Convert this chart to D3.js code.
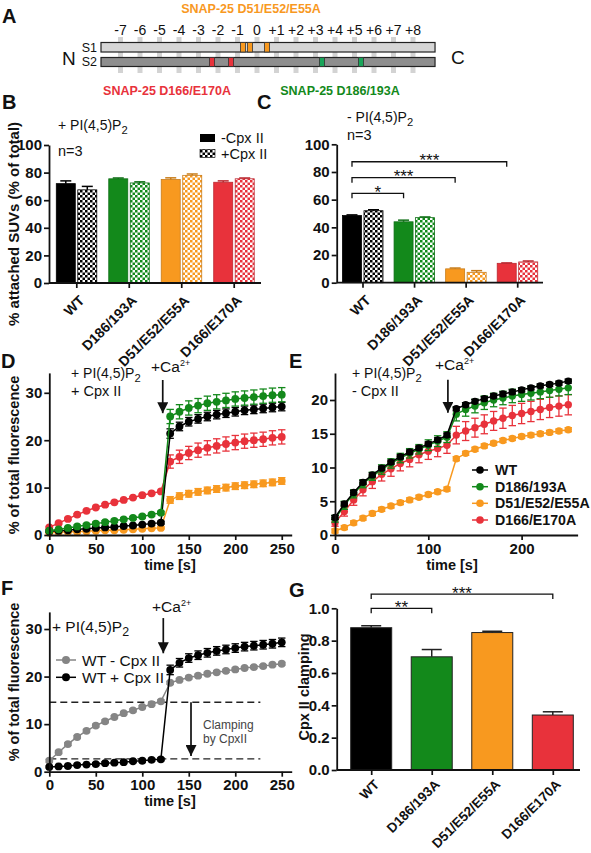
<!DOCTYPE html>
<html><head><meta charset="utf-8">
<script src="https://cdn.jsdelivr.net/npm/d3@7"></script>
<style>body{margin:0;background:#fff}svg{display:block}text{font-family:Arial,"Liberation Sans",sans-serif}</style>
</head><body><svg id="c" width="591" height="853"></svg>
<script>
// ---------------- data ----------------
const categories = ["WT","D186/193A","D51/E52/E55A","D166/E170A"];
const seriesColors = ["#000000","#13891b","#f8991f","#e8323b"];

// panel A
const layerLabels = ["-7","-6","-5","-4","-3","-2","-1","0","+1","+2","+3","+4","+5","+6","+7","+8"];
const layerValues = [-7,-6,-5,-4,-3,-2,-1,0,1,2,3,4,5,6,7,8];
const orangeMutS1 = [-0.72,-0.36,0.51];
const redMutS2 = [-2.31,-1.33];
const greenMutS2 = [3.33,5.33];

// panel B (+PI(4,5)P2)
const attachedPIP2NoCpx = [72,75.5,75,73];
const attachedPIP2NoCpxErr = [2,0.6,1.2,1];
const attachedPIP2Cpx = [67.5,72.5,78,75.5];
const attachedPIP2CpxErr = [2.5,0.8,1,0.6];
const yTicksPct = [0,20,40,60,80,100];

// panel C (-PI(4,5)P2)
const attachedNoPIP2NoCpx = [48.5,44,10,14];
const attachedNoPIP2NoCpxErr = [0.5,1.2,0.6,0.3];
const attachedNoPIP2Cpx = [52,47,7.5,15];
const attachedNoPIP2CpxErr = [0.7,0.5,1.2,0.7];
const sigC = [{a:0,b:1,label:"*",y:64.6},{a:0,b:2,label:"***",y:75.9},{a:0,b:3,label:"***",y:87.4}];

// time course
const time = [0,10,20,30,40,50,60,70,80,90,100,110,120,130,140,150,160,170,180,190,200,210,220,230,240,250];

// panel D (+PI(4,5)P2 + Cpx II)
const dWT    = [0.8,0.9,1.0,1.2,1.3,1.5,1.6,1.7,1.9,2.0,2.2,2.4,2.6,21.4,22.9,23.9,24.5,25.0,25.4,25.7,26.0,26.3,26.5,26.7,26.9,27.1];
const dWTErr = [0.2,0.2,0.2,0.2,0.2,0.2,0.2,0.2,0.2,0.2,0.2,0.3,0.3,1.0,0.9,0.9,0.9,0.9,0.9,0.9,0.9,0.9,0.9,0.9,0.9,0.9];
const dD186    = [0.9,1.2,1.5,1.8,2.1,2.4,2.7,3.0,3.3,3.6,3.9,4.3,4.7,25.0,26.0,26.8,27.3,27.8,28.1,28.4,28.7,28.9,29.1,29.3,29.5,29.6];
const dD186Err = [0.2,0.2,0.2,0.3,0.3,0.3,0.3,0.3,0.3,0.3,0.3,0.3,0.3,1.5,1.5,1.5,1.5,1.5,1.5,1.5,1.5,1.5,1.5,1.5,1.5,1.5];
const dD51    = [0.5,0.6,0.7,0.7,0.8,0.9,1.0,1.0,1.1,1.2,1.3,1.4,1.5,7.4,8.2,8.7,9.1,9.4,9.7,10.0,10.3,10.5,10.7,10.9,11.1,11.4];
const dD51Err = [0.2,0.2,0.2,0.2,0.2,0.2,0.2,0.2,0.2,0.2,0.2,0.2,0.2,0.7,0.7,0.7,0.7,0.7,0.7,0.7,0.7,0.7,0.7,0.7,0.7,0.7];
const dD166    = [1.6,2.5,3.4,4.3,5.1,5.8,6.4,6.9,7.4,7.9,8.4,8.8,9.2,15.5,16.5,17.3,17.9,18.4,18.8,19.2,19.5,19.8,20.0,20.2,20.5,20.7];
const dD166Err = [0.2,0.2,0.2,0.2,0.2,0.2,0.2,0.2,0.2,0.2,0.2,0.2,0.2,1.4,1.4,1.4,1.5,1.5,1.5,1.5,1.5,1.5,1.5,1.5,1.5,1.5];

// panel E (+PI(4,5)P2 - Cpx II)
const eWT    = [2.6,4.6,6.3,7.8,8.9,9.9,10.8,11.6,12.3,12.9,13.5,14.1,14.8,18.7,19.3,19.8,20.2,20.6,20.9,21.2,21.5,21.8,22.1,22.3,22.5,22.8];
const eWTErr = [0.3,0.3,0.3,0.3,0.3,0.3,0.3,0.3,0.3,0.3,0.3,0.3,0.3,0.3,0.3,0.3,0.3,0.3,0.3,0.3,0.3,0.3,0.3,0.3,0.3,0.3];
const eD186    = [2.4,4.4,6.1,7.6,8.7,9.7,10.6,11.4,12.1,12.7,13.3,13.9,14.5,17.9,18.6,19.1,19.6,20.0,20.3,20.6,20.8,21.0,21.2,21.4,21.6,21.8];
const eD186Err = [0.5,0.6,0.6,0.6,0.6,0.7,0.7,0.7,0.7,0.7,0.8,0.8,0.8,1.0,1.0,1.0,1.0,1.0,1.0,1.0,1.0,1.0,1.0,1.0,1.0,1.0];
const eD51    = [0.6,1.1,1.8,2.5,3.2,3.8,4.3,4.8,5.2,5.6,6.0,6.4,6.8,11.3,12.1,12.7,13.2,13.6,14.0,14.3,14.6,14.8,15.0,15.2,15.4,15.6];
const eD51Err = [0.3,0.3,0.3,0.3,0.3,0.3,0.3,0.3,0.3,0.3,0.3,0.3,0.3,0.3,0.3,0.3,0.3,0.3,0.3,0.3,0.3,0.3,0.3,0.3,0.3,0.3];
const eD166    = [1.8,3.5,5.2,6.7,7.9,9.0,9.8,10.6,11.2,11.9,12.4,12.8,13.3,14.8,15.4,15.9,16.4,16.9,17.3,17.7,18.0,18.3,18.6,18.9,19.1,19.3];
const eD166Err = [0.5,0.7,0.8,0.9,1.0,1.0,1.1,1.1,1.1,1.2,1.2,1.2,1.2,1.3,1.4,1.4,1.4,1.4,1.5,1.5,1.5,1.5,1.5,1.5,1.5,1.5];

// panel F
const fWTNoCpx    = [2.3,4.1,5.8,7.3,8.6,9.7,10.6,11.5,12.3,12.9,13.6,14.2,14.8,18.7,19.3,19.8,20.2,20.6,20.9,21.2,21.5,21.8,22.0,22.2,22.5,22.7];
const fWTNoCpxErr = [0.3,0.3,0.3,0.3,0.3,0.3,0.3,0.3,0.3,0.3,0.3,0.3,0.3,0.3,0.3,0.3,0.3,0.3,0.3,0.3,0.3,0.3,0.3,0.3,0.3,0.3];
const fWTCpx    = [1.0,1.1,1.2,1.4,1.5,1.6,1.8,1.9,2.0,2.2,2.3,2.5,2.6,21.4,22.9,23.9,24.5,25.0,25.4,25.7,26.0,26.3,26.5,26.7,26.9,27.2];
const fWTCpxErr = [0.2,0.2,0.2,0.2,0.2,0.3,0.3,0.3,0.3,0.3,0.3,0.3,0.3,1.0,0.9,0.9,0.9,0.9,0.9,0.9,0.9,0.9,0.9,0.9,0.9,0.9];
const clampLevels = [14.6,2.7];

// panel G
const cpxClamping = [0.88,0.70,0.85,0.34];
const cpxClampingErr = [0.012,0.045,0.008,0.02];
const sigG = [{a:0,b:1,label:"**",y:1.0},{a:0,b:3,label:"***",y:1.088}];

// ---------------- drawing ----------------
const svg = d3.select("#c");
svg.append("rect").attr("width",591).attr("height",853).attr("fill","#fff");
const INK = "#111";
const TICK = 15, TITLE = 14.5;
const defs = svg.append("defs");
seriesColors.forEach((c,i)=>{
  const p = defs.append("pattern").attr("id","chk"+i).attr("patternUnits","userSpaceOnUse").attr("width",5).attr("height",5);
  p.append("rect").attr("width",5).attr("height",5).attr("fill","#fff");
  p.append("rect").attr("width",2.5).attr("height",2.5).attr("fill",c);
  p.append("rect").attr("x",2.5).attr("y",2.5).attr("width",2.5).attr("height",2.5).attr("fill",c);
});
const mk = defs.append("marker").attr("id","ah").attr("viewBox","0 0 10 10").attr("refX",10).attr("refY",5)
  .attr("markerWidth",11).attr("markerHeight",11).attr("markerUnits","userSpaceOnUse").attr("orient","auto");
mk.append("path").attr("d","M0,0L10,5L0,10Z").attr("fill",INK);

function txt(x,y,t,o={}){
  return svg.append("text").attr("x",x).attr("y",y).text(t)
    .attr("font-size",o.size||14).attr("font-weight",o.bold?"bold":"normal")
    .attr("fill",o.fill||INK).attr("text-anchor",o.anchor||"start");
}
function panelLabel(x,y,t){ txt(x,y,t,{size:20,bold:true}); }
function pip2(x,y,prefix,size){
  const s = size||14;
  const e = txt(x,y,prefix+" PI(4,5)P",{size:s});
  e.append("tspan").attr("dy",4).attr("font-size",s*0.8).text("2");
}
function ca(x,y){
  const e = txt(x,y,"+Ca",{size:15.5});
  e.append("tspan").attr("dy",-6).attr("font-size",9).text("2+");
}
function styleAxis(a, size){
  a.select(".domain").attr("stroke",INK).attr("stroke-width",1.8);
  a.selectAll(".tick line").attr("stroke",INK).attr("stroke-width",1.7);
  a.selectAll(".tick text").attr("font-size",size||TICK).attr("font-weight","bold").attr("fill",INK)
    .attr("font-family",'Arial,"Liberation Sans",sans-serif');
}
function yAxis(y,x0,ticks,fmt){
  const a = svg.append("g").attr("transform",`translate(${x0},0)`)
    .call(d3.axisLeft(y).tickValues(ticks).tickSize(5).tickSizeOuter(0).tickPadding(2).tickFormat(fmt||d3.format("d")));
  styleAxis(a);
}
function catAxis(x,y0,x0,x1,size,dy){
  svg.append("line").attr("x1",x0).attr("x2",x1).attr("y1",y0).attr("y2",y0).attr("stroke",INK).attr("stroke-width",1.8);
  const a = svg.append("g").attr("transform",`translate(0,${y0})`)
    .call(d3.axisBottom(x).tickSize(5).tickSizeOuter(0));
  a.select(".domain").remove();
  styleAxis(a,size);
  a.selectAll(".tick text").attr("x",0).attr("y",0).attr("dy","0.35em").attr("text-anchor","end")
    .attr("transform",`translate(5,${dy}) rotate(-45)`);
}
function yTitle(x,y,t,size){
  svg.append("text").attr("transform",`translate(${x},${y}) rotate(-90)`).attr("text-anchor","middle")
    .attr("font-size",size||TITLE).attr("font-weight","bold").attr("fill",INK).text(t);
}
function xTitle(x,y,t){
  svg.append("text").attr("x",x).attr("y",y).attr("text-anchor","middle").attr("font-size",TITLE).attr("font-weight","bold").attr("fill",INK).text(t);
}
function errUp(g,cx,yv,ye,hw,color){
  g.append("line").attr("x1",cx).attr("x2",cx).attr("y1",yv).attr("y2",ye).attr("stroke",color).attr("stroke-width",1.5);
  g.append("line").attr("x1",cx-hw).attr("x2",cx+hw).attr("y1",ye).attr("y2",ye).attr("stroke",color).attr("stroke-width",1.5);
}
function brackets(list,x,y,off,drop){
  list.forEach(s=>{
    const xa = x(categories[s.a])+off, xb = x(categories[s.b])+off, yy = y(s.y);
    svg.append("path").attr("d",`M${xa},${yy+drop}V${yy}H${xb}V${yy+drop}`).attr("fill","none").attr("stroke",INK).attr("stroke-width",1.3);
    txt((xa+xb)/2,yy+4.5,s.label,{size:17,anchor:"middle"});
  });
}

// ===== Panel A =====
panelLabel(2,23,"A");
const xA = d3.scaleLinear().domain([-7,8]).range([120.5,413]);
txt(251,13,"SNAP-25 D51/E52/E55A",{size:12.5,bold:true,fill:seriesColors[2],anchor:"middle"});
svg.append("g").selectAll("text").data(layerLabels).join("text")
  .attr("x",(d,i)=>xA(layerValues[i])).attr("y",35).attr("text-anchor","middle")
  .attr("font-size",14).attr("fill",INK).text(d=>d);
svg.append("g").selectAll("rect").data(layerValues).join("rect")
  .attr("x",d=>xA(d)-2.5).attr("y",37).attr("width",5).attr("height",36).attr("fill","#d3d3d3");
svg.append("rect").attr("x",xA(-8)).attr("y",42.5).attr("width",xA(9.13)-xA(-8)).attr("height",9.5)
  .attr("fill","#d6d6d6").attr("stroke","#222").attr("stroke-width",1.2);
svg.append("rect").attr("x",xA(-8)).attr("y",57.5).attr("width",xA(9.13)-xA(-8)).attr("height",9)
  .attr("fill","#8e8e8e").attr("stroke","#222").attr("stroke-width",1.2);
function mutMarks(list,y,h,color){
  svg.append("g").selectAll("rect").data(list).join("rect")
    .attr("x",d=>xA(d)-2.5).attr("y",y).attr("width",5).attr("height",h)
    .attr("fill",color).attr("stroke","#333").attr("stroke-width",0.8);
}
mutMarks(orangeMutS1,42.5,9.5,seriesColors[2]);
mutMarks(redMutS2,57.5,9,seriesColors[3]);
mutMarks(greenMutS2,57.5,9,"#1aa55a");
txt(97,52,"S1",{size:12.5,anchor:"end"});
txt(97,66,"S2",{size:12.5,anchor:"end"});
txt(62,65,"N",{size:19});
txt(451,64,"C",{size:19});
txt(167,95,"SNAP-25 D166/E170A",{size:12.5,bold:true,fill:seriesColors[3],anchor:"middle"});
txt(340,95,"SNAP-25 D186/193A",{size:12.5,bold:true,fill:seriesColors[1],anchor:"middle"});

// ===== bar panels B and C =====
function pairedBars(x,y,solid,solidErr,chk,chkErr){
  const g = svg.append("g");
  const bw = 19;
  categories.forEach((c,i)=>{
    const cx = x(c), col = seriesColors[i];
    const st = i===0 ? "#000" : d3.color(col).darker(0.6);
    g.append("rect").attr("x",cx-bw-1).attr("y",y(solid[i])).attr("width",bw).attr("height",y(0)-y(solid[i]))
      .attr("fill",col).attr("stroke",st).attr("stroke-width",0.8);
    errUp(g,cx-bw/2-1,y(solid[i]),y(solid[i]+solidErr[i]),5.5,i===0?"#000":st);
    g.append("rect").attr("x",cx+1.5).attr("y",y(chk[i])).attr("width",bw).attr("height",y(0)-y(chk[i]))
      .attr("fill",`url(#chk${i})`).attr("stroke",st).attr("stroke-width",0.8);
    errUp(g,cx+1.5+bw/2,y(chk[i]),y(chk[i]+chkErr[i]),5.5,i===0?"#000":st);
  });
}
// B
panelLabel(2,109,"B");
const yB = d3.scaleLinear().domain([0,100]).range([283,145]);
const xB = d3.scalePoint().domain(categories).range([49,261]).padding(0.52);
pairedBars(xB,yB,attachedPIP2NoCpx,attachedPIP2NoCpxErr,attachedPIP2Cpx,attachedPIP2CpxErr);
yAxis(yB,49,yTicksPct);
catAxis(xB,283,49,261,14,15);
yTitle(19,224,"% attached SUVs (% of total)",15);
pip2(58,130,"+");
txt(58,156,"n=3",{size:14.5});
svg.append("rect").attr("x",200).attr("y",134).attr("width",15).attr("height",8).attr("fill","#000");
svg.append("rect").attr("x",200).attr("y",149.5).attr("width",15).attr("height",8).attr("fill","url(#chk0)").attr("stroke","#000").attr("stroke-width",0.6);
txt(221,143,"-Cpx II",{size:14.5});
txt(221,158.5,"+Cpx II",{size:14.5});

// C
panelLabel(257,109,"C");
const yC = d3.scaleLinear().domain([0,100]).range([282.7,144.3]);
const xC = d3.scalePoint().domain(categories).range([336.7,543]).padding(0.5);
pairedBars(xC,yC,attachedNoPIP2NoCpx,attachedNoPIP2NoCpxErr,attachedNoPIP2Cpx,attachedNoPIP2CpxErr);
yAxis(yC,336.7,yTicksPct);
catAxis(xC,282.7,336.7,543,14,15);
brackets(sigC,xC,yC,-10.5,5);
pip2(347,122,"-");
txt(347,140,"n=3",{size:14.5});

// ===== line panels =====
function drawSeries(x,y,vals,errs,color,r){
  const g = svg.append("g");
  g.append("path").datum(vals).attr("fill","none").attr("stroke",color).attr("stroke-width",1.5)
    .attr("d",d3.line().x((d,i)=>x(time[i])).y(d=>y(d)));
  vals.forEach((v,i)=>{
    const cx = x(time[i]), e = errs[i];
    g.append("line").attr("x1",cx).attr("x2",cx).attr("y1",y(v-e)).attr("y2",y(v+e)).attr("stroke",color).attr("stroke-width",1.3);
    [v-e,v+e].forEach(w=>g.append("line").attr("x1",cx-3.7).attr("x2",cx+3.7).attr("y1",y(w)).attr("y2",y(w)).attr("stroke",color).attr("stroke-width",1.3));
  });
  g.selectAll("circle").data(vals).join("circle").attr("cx",(d,i)=>x(time[i])).attr("cy",d=>y(d)).attr("r",r).attr("fill",color);
}
function xAxisLin(x,y0,ticks){
  const a = svg.append("g").attr("transform",`translate(0,${y0})`)
    .call(d3.axisBottom(x).tickValues(ticks).tickSize(5).tickSizeOuter(0).tickPadding(3));
  styleAxis(a);
}
function arrowV(x,y1,y2){
  svg.append("line").attr("x1",x).attr("x2",x).attr("y1",y1).attr("y2",y2).attr("stroke",INK).attr("stroke-width",1.7).attr("marker-end","url(#ah)");
}

// D
panelLabel(1,368,"D");
const xD = d3.scaleLinear().domain([0,260.7]).range([49.3,291.7]);
const yD = d3.scaleLinear().domain([0,34.2]).range([535,372.9]);
drawSeries(xD,yD,dD51,dD51Err,seriesColors[2],3.9);
drawSeries(xD,yD,dD166,dD166Err,seriesColors[3],3.9);
drawSeries(xD,yD,dWT,dWTErr,seriesColors[0],3.9);
drawSeries(xD,yD,dD186,dD186Err,seriesColors[1],3.9);
yAxis(yD,49.3,[0,10,20,30]);
xAxisLin(xD,535,[0,50,100,150,200,250]);
xTitle(170,570,"time [s]");
yTitle(19,455,"% of total fluorescence");
pip2(71,378,"+");
txt(71,396,"+ Cpx II",{size:14.5});
ca(151,372);
arrowV(xD(122),yD(32.7),yD(25.7));

// E
panelLabel(289,368,"E");
const xE = d3.scaleLinear().domain([0,260]).range([335,577.6]);
const yE = d3.scaleLinear().domain([0,24]).range([535,373]);
drawSeries(xE,yE,eD51,eD51Err,seriesColors[2],3.7);
drawSeries(xE,yE,eD166,eD166Err,seriesColors[3],3.7);
drawSeries(xE,yE,eD186,eD186Err,seriesColors[1],3.7);
drawSeries(xE,yE,eWT,eWTErr,seriesColors[0],3.7);
yAxis(yE,335,[0,5,10,15,20]);
xAxisLin(xE,535,[0,100,200]);
xTitle(452,570,"time [s]");
pip2(352,378,"+");
txt(352,396,"- Cpx II",{size:14.5});
ca(435,370);
arrowV(xE(121),yE(23),yE(18.1));
const legY = [470,486.7,503.3,520];
categories.forEach((c,i)=>{
  svg.append("line").attr("x1",472).attr("x2",488).attr("y1",legY[i]).attr("y2",legY[i]).attr("stroke",seriesColors[i]).attr("stroke-width",1.5);
  svg.append("circle").attr("cx",480).attr("cy",legY[i]).attr("r",3.8).attr("fill",seriesColors[i]);
  txt(495,legY[i]+5,c,{size:14.2,bold:true});
});

// F
panelLabel(1,595,"F");
const xF = d3.scaleLinear().domain([0,260.7]).range([49.3,291.7]);
const yF = d3.scaleLinear().domain([0,33.6]).range([771.7,611.9]);
clampLevels.forEach(v=>{
  svg.append("line").attr("x1",xF(0)).attr("x2",xF(227)).attr("y1",yF(v)).attr("y2",yF(v))
    .attr("stroke","#222").attr("stroke-width",1.3).attr("stroke-dasharray","7,4");
});
drawSeries(xF,yF,fWTNoCpx,fWTNoCpxErr,"#858585",3.9);
drawSeries(xF,yF,fWTCpx,fWTCpxErr,"#000",3.9);
yAxis(yF,49.3,[0,10,20,30]);
xAxisLin(xF,771.7,[0,50,100,150,200,250]);
xTitle(170,806,"time [s]");
yTitle(19,682,"% of total fluorescence");
pip2(52,632,"+",15.5);
ca(152,612);
arrowV(xF(122.6),yF(32.3),yF(24.9));
arrowV(xF(152.4),yF(clampLevels[0]),yF(3.3));
txt(203,729,"Clamping",{size:12,fill:"#444"});
txt(203,743,"by CpxII",{size:12,fill:"#444"});
[["WT - Cpx II","#858585",660],["WT + Cpx II","#000",677.3]].forEach(([t,c,yy])=>{
  svg.append("line").attr("x1",56).attr("x2",76).attr("y1",yy).attr("y2",yy).attr("stroke",c).attr("stroke-width",1.5);
  svg.append("circle").attr("cx",66).attr("cy",yy).attr("r",4).attr("fill",c);
  txt(82,yy+5.5,t,{size:15.5});
});

// G
panelLabel(289,597,"G");
const yG = d3.scaleLinear().domain([0,1]).range([770,608.3]);
const xG = d3.scalePoint().domain(categories).range([371.2,552.8]);
const gG = svg.append("g");
categories.forEach((c,i)=>{
  const cx = xG(c);
  gG.append("rect").attr("x",cx-20.5).attr("y",yG(cpxClamping[i])).attr("width",41).attr("height",yG(0)-yG(cpxClamping[i]))
    .attr("fill",seriesColors[i]).attr("stroke","#222").attr("stroke-width",1);
  errUp(gG,cx,yG(cpxClamping[i]),yG(cpxClamping[i]+cpxClampingErr[i]),10,"#222");
});
yAxis(yG,336.7,[0,0.2,0.4,0.6,0.8,1.0],d3.format(".1f"));
catAxis(xG,770,336.7,580,13.5,12);
brackets(sigG,xG,yG,0,5);
yTitle(309,687,"Cpx II clamping");
</script></body></html>
